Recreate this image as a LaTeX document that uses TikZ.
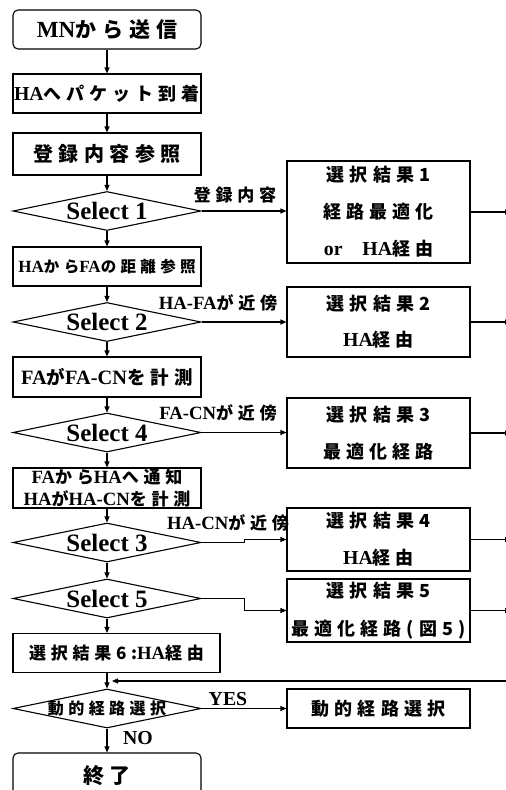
\documentclass[tikz,border=0pt]{standalone}
\usepackage{fontspec}
\setmainfont{Liberation Serif}[Scale=1.1]
\newfontfamily\jpfont[LetterSpace=28]{Noto Sans CJK JP}
\newcommand\jp[1]{{\jpfont #1}}
\usetikzlibrary{shapes.geometric,arrows.meta}

\begin{document}
\begin{tikzpicture}[x=1pt,y=-1pt,line width=1.1pt,
  >={Triangle[length=6pt,width=5pt]},
  every node/.style={inner sep=0pt},
  terminal/.style={draw,rounded corners=5pt,minimum width=188pt,minimum height=39pt,font=\fontsize{21}{25}\selectfont\bfseries},
  procbox/.style={draw,minimum width=188pt,minimum height=39pt},
  decision/.style={draw,shape=diamond,aspect=4.8,minimum width=188pt,minimum height=39pt,font=\fontsize{22.7}{26}\selectfont\bfseries},
  resultbox/.style={draw,minimum width=183pt,align=center},
  cond/.style={font=\fontsize{17}{20}\selectfont\bfseries}]
\useasboundingbox (0,0) rectangle (506,790);
\coordinate (rim) at (511,0);

% main column
\node[terminal] (start) at (107,29.5) {MN\jp{から送信}};
\node[procbox,font=\fontsize{18}{22}\selectfont\bfseries] (recv) at (107,93.5) {HA\jp{へパケット到着}};
\node[procbox,minimum height=42pt,font=\fontsize{20}{24}\selectfont\bfseries] (ref) at (107,154) {\jp{登録内容参照}};
\node[decision] (sel1) at (107,211) {Select 1};
\node[procbox,font=\fontsize{15.5}{18}\selectfont\bfseries] (dist) at (107,266.5) {HA\jp{から}FA\jp{の距離参照}};
\node[decision] (sel2) at (107,322) {Select 2};
\node[procbox,minimum height=40pt,font=\fontsize{18.5}{22}\selectfont\bfseries] (meas) at (107,377) {FA\jp{が}FA-CN\jp{を計測}};
\node[decision] (sel4) at (107,432.5) {Select 4};
\node[procbox,minimum height=40pt,align=center,font=\fontsize{17}{22}\selectfont\bfseries] (notify) at (107,488) {FA\jp{から}HA\jp{へ通知}\\HA\jp{が}HA-CN\jp{を計測}};
\node[decision] (sel3) at (107,542.5) {Select 3};
\node[decision] (sel5) at (107,598.5) {Select 5};
\node[procbox,minimum width=207pt,font=\fontsize{17}{20}\selectfont\bfseries] (res6) at (116.5,653) {\jp{選択結果6:}HA\jp{経由}};
\node[decision,font=\fontsize{16}{20}\selectfont\bfseries] (dyn) at (107,708.5) {\makebox[0pt]{\jp{動的経路選択}}};
\node[terminal,minimum height=46pt] (stop) at (107,776) {\jp{終了}};

% results
\node[resultbox,minimum height=102pt,font=\fontsize{18}{37}\selectfont\bfseries] (res1) at (378.5,212) {\jp{選択結果1}\\\jp{経路最適化}\\or\quad HA\jp{経由}};
\node[resultbox,minimum height=70pt,font=\fontsize{18}{36}\selectfont\bfseries] (res2) at (378.5,322) {\jp{選択結果2}\\HA\jp{経由}};
\node[resultbox,minimum height=70pt,font=\fontsize{18}{37}\selectfont\bfseries] (res3) at (378.5,433) {\jp{選択結果3}\\\jp{最適化経路}};
\node[resultbox,minimum height=63pt,font=\fontsize{18}{37}\selectfont\bfseries] (res4) at (378.5,539.5) {\jp{選択結果4}\\HA\jp{経由}};
\node[resultbox,minimum height=63pt,font=\fontsize{18}{38}\selectfont\bfseries] (res5) at (378.5,610.5) {\jp{選択結果5}\\\jp{最適化経路(図5)}};
\node[resultbox,minimum height=39pt,font=\fontsize{18}{22}\selectfont\bfseries] (dynbox) at (378.5,708.5) {\jp{動的経路選択}};

% branch labels
\node[cond] (l1) at (235,195) {\jp{登録内容}};
\node[cond] (l2) at (218,303) {HA-FA\jp{が近傍}};
\node[cond] (l3) at (218,413) {FA-CN\jp{が近傍}};
\node[cond] (l4) at (228,523) {HA-CN\jp{が近傍}};
\node[font=\fontsize{18}{22}\selectfont\bfseries] (yes) at (228,699) {YES};
\node[font=\fontsize{18}{22}\selectfont\bfseries] (no) at (138,738) {NO};

% flow
\draw[->] (start) -- (recv);
\draw[->] (recv) -- (ref);
\draw[->] (ref) -- (sel1);
\draw[->] (sel1) -- (dist);
\draw[->] (dist) -- (sel2);
\draw[->] (sel2) -- (meas);
\draw[->] (meas) -- (sel4);
\draw[->] (sel4) -- (notify);
\draw[->] (notify) -- (sel3);
\draw[->] (sel3) -- (sel5);
\draw[->] (sel5.south) -- (sel5.south |- res6.north);
\draw[->] (res6.south -| dyn.north) -- (dyn.north);
\draw[->] (dyn) -- (stop);

% branches
\draw[->] (sel1.east) -- (sel1.east -| res1.west);
\draw[->] (sel2.east) -- (sel2.east -| res2.west);
\draw[->] (sel4.east) -- (sel4.east -| res3.west);
\draw[->] (sel3.east) -- ++(43,0) |- (res4.west);
\draw[->] (sel5.east) -- ++(43,0) |- (res5.west);
\draw[->] (dyn.east) -- (dynbox.west);

% out to the right and back
\foreach \r in {res1,res2,res3,res4,res5}
  \draw[->] (\r.east) -- (\r.east -| rim);
\coordinate (back) at (514,681);
\coordinate (join) at (112,681);
\draw[->] (back) -- (join);

\end{tikzpicture}
\end{document}
